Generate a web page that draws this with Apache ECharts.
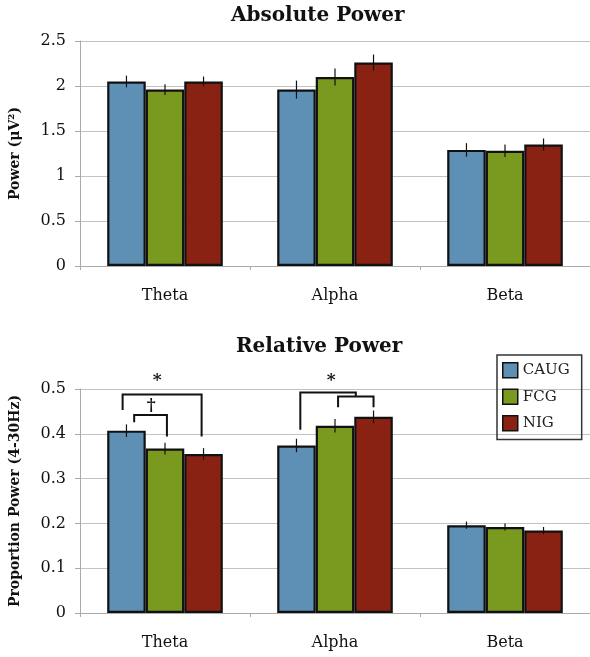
<!DOCTYPE html>
<html>
<head>
<meta charset="utf-8">
<script src="https://cdn.jsdelivr.net/npm/echarts@6/dist/echarts.min.js"></script>
<style>
  html, body { margin: 0; padding: 0; background: #fff; }
  #chart { width: 590px; height: 657px; }
</style>
</head>
<body>
<div id="chart"></div>
<script>
// frequency bands and groups
var categories = ['Theta', 'Alpha', 'Beta'];
var groups = ['CAUG', 'FCG', 'NIG'];
var colors = ['#5e8fb5', '#7a9a1f', '#8a2214'];

// absolute power (uV^2)
var absCAUG = [2.05, 1.96, 1.29];
var absFCG = [1.96, 2.10, 1.28];
var absNIG = [2.05, 2.26, 1.35];
var absErrCAUG = [0.065, 0.10, 0.075];
var absErrFCG = [0.06, 0.095, 0.07];
var absErrNIG = [0.055, 0.09, 0.067];

// relative power (proportion of 4-30Hz)
var relCAUG = [0.407, 0.374, 0.196];
var relFCG = [0.367, 0.418, 0.192];
var relNIG = [0.355, 0.438, 0.184];
var relErrCAUG = [0.014, 0.015, 0.008];
var relErrFCG = [0.013, 0.015, 0.008];
var relErrNIG = [0.013, 0.014, 0.008];

// significance brackets: [band, left (bar units from band centre), right, top, left end, right end]
var brackets = [
  [0, -1.1, 0.95, 0.488, 0.453, 0.394],
  [0, -0.8, 0.05, 0.442, 0.426, 0.394],
  [1, 0.08, 1.0, 0.483, 0.459, 0.459],
  [1, -0.9, 0.54, 0.492, 0.409, 0.483]
];
// marks: [band, offset, value, symbol]
var marks = [
  [0, -0.2, 0.518, '*'],
  [0, -0.36, 0.464, '\u2020'],
  [1, -0.1, 0.518, '*']
];

var BAR_FRAC = 0.68 / 3;
var FONT = '"DejaVu Serif", serif';

var myChart = echarts.init(document.getElementById('chart'));

function errData(lists, errs) {
  var out = [];
  for (var k = 0; k < lists.length; k++) {
    for (var i = 0; i < categories.length; i++) {
      out.push([i, lists[k][i], errs[k][i], k]);
    }
  }
  return out;
}

function renderErr(params, api) {
  var cat = api.value(0), val = api.value(1), err = api.value(2), k = api.value(3);
  var bw = api.size([1, 0])[0] * BAR_FRAC;
  var top = api.coord([cat, val + err]);
  var bot = api.coord([cat, val - err]);
  var x = top[0] + (k - 1) * bw;
  return {
    type: 'line',
    shape: { x1: x, y1: top[1], x2: x, y2: bot[1] },
    style: { stroke: '#111', lineWidth: 1.2 }
  };
}

function renderBracket(params, api) {
  var cat = api.value(0);
  var bw = api.size([1, 0])[0] * BAR_FRAC;
  var c = api.coord([cat, api.value(3)]);
  var xl = c[0] + api.value(1) * bw;
  var xr = c[0] + api.value(2) * bw;
  var yl = api.coord([cat, api.value(4)])[1];
  var yr = api.coord([cat, api.value(5)])[1];
  return {
    type: 'polyline',
    shape: { points: [[xl, yl], [xl, c[1]], [xr, c[1]], [xr, yr]] },
    style: { stroke: '#111', lineWidth: 2, fill: null }
  };
}

function renderMark(params, api) {
  var cat = api.value(0);
  var bw = api.size([1, 0])[0] * BAR_FRAC;
  var c = api.coord([cat, api.value(2)]);
  return {
    type: 'text',
    style: {
      text: marks[params.dataIndex][3],
      x: c[0] + api.value(1) * bw,
      y: c[1],
      align: 'center',
      verticalAlign: 'middle',
      font: 'bold 17px ' + FONT,
      fill: '#111'
    }
  };
}

var absLists = [absCAUG, absFCG, absNIG];
var relLists = [relCAUG, relFCG, relNIG];

var series = [];
for (var k = 0; k < groups.length; k++) {
  series.push({
    name: groups[k], type: 'bar', xAxisIndex: 0, yAxisIndex: 0,
    barGap: '0%', barCategoryGap: '32%',
    itemStyle: { color: colors[k], borderColor: '#111', borderWidth: 2.2 },
    data: absLists[k]
  });
}
for (var k = 0; k < groups.length; k++) {
  series.push({
    name: groups[k], type: 'bar', xAxisIndex: 1, yAxisIndex: 1,
    barGap: '0%', barCategoryGap: '32%',
    itemStyle: { color: colors[k], borderColor: '#111', borderWidth: 2.2 },
    data: relLists[k]
  });
}
series.push({
  type: 'custom', xAxisIndex: 0, yAxisIndex: 0, z: 5,
  renderItem: renderErr,
  encode: { x: 0, y: 1 },
  data: errData(absLists, [absErrCAUG, absErrFCG, absErrNIG])
});
series.push({
  type: 'custom', xAxisIndex: 1, yAxisIndex: 1, z: 5,
  renderItem: renderErr,
  encode: { x: 0, y: 1 },
  data: errData(relLists, [relErrCAUG, relErrFCG, relErrNIG])
});
series.push({
  type: 'custom', xAxisIndex: 1, yAxisIndex: 1, z: 5,
  renderItem: renderBracket,
  encode: { x: 0, y: 3 },
  data: brackets
});
series.push({
  type: 'custom', xAxisIndex: 1, yAxisIndex: 1, z: 5,
  renderItem: renderMark,
  encode: { x: 0, y: 2 },
  data: marks.map(function (m) { return [m[0], m[1], m[2]]; })
});

function xAxisOpt(gi) {
  return {
    type: 'category', gridIndex: gi, data: categories,
    axisLine: { lineStyle: { color: '#aaa', width: 1 } },
    axisTick: { show: true, length: 4, lineStyle: { color: '#aaa' } },
    axisLabel: { color: '#111', fontFamily: FONT, fontSize: 16, margin: 22 }
  };
}

function yAxisOpt(gi, max, interval, name) {
  return {
    type: 'value', gridIndex: gi, min: 0, max: max, interval: interval,
    name: name, nameLocation: 'middle', nameGap: 58,
    nameTextStyle: { color: '#111', fontFamily: FONT, fontSize: 14, fontWeight: 'bold' },
    axisLine: { show: true, lineStyle: { color: '#aaa', width: 1 } },
    axisTick: { show: true, length: 5, lineStyle: { color: '#aaa' } },
    axisLabel: { color: '#111', fontFamily: FONT, fontSize: 16, margin: 14 },
    splitLine: { lineStyle: { color: '#c2c2c2', width: 1 } }
  };
}

myChart.setOption({
  animation: false,
  backgroundColor: '#fff',
  title: [
    {
      text: 'Absolute Power', left: 231, top: 6, padding: 0,
      textStyle: { fontFamily: FONT, fontSize: 20, fontWeight: 'bold', color: '#111' }
    },
    {
      text: 'Relative Power', left: 236, top: 337, padding: 0,
      textStyle: { fontFamily: FONT, fontSize: 20, fontWeight: 'bold', color: '#111' }
    }
  ],
  legend: {
    data: groups, orient: 'vertical', left: 497, top: 355,
    padding: [7, 12, 8, 5], itemGap: 10, itemWidth: 15, itemHeight: 15,
    icon: 'rect',
    borderColor: '#333', borderWidth: 1.5,
    itemStyle: { borderColor: '#111', borderWidth: 1.5 },
    textStyle: { fontFamily: FONT, fontSize: 15, color: '#222' }
  },
  grid: [
    { left: 75, right: 0, top: 41, height: 225 },
    { left: 75, right: 0, top: 389, height: 224 }
  ],
  xAxis: [xAxisOpt(0), xAxisOpt(1)],
  yAxis: [
    yAxisOpt(0, 2.5, 0.5, 'Power (\u03bcV\u00b2)'),
    yAxisOpt(1, 0.5, 0.1, 'Proportion Power (4-30Hz)')
  ],
  series: series
});
</script>
</body>
</html>
